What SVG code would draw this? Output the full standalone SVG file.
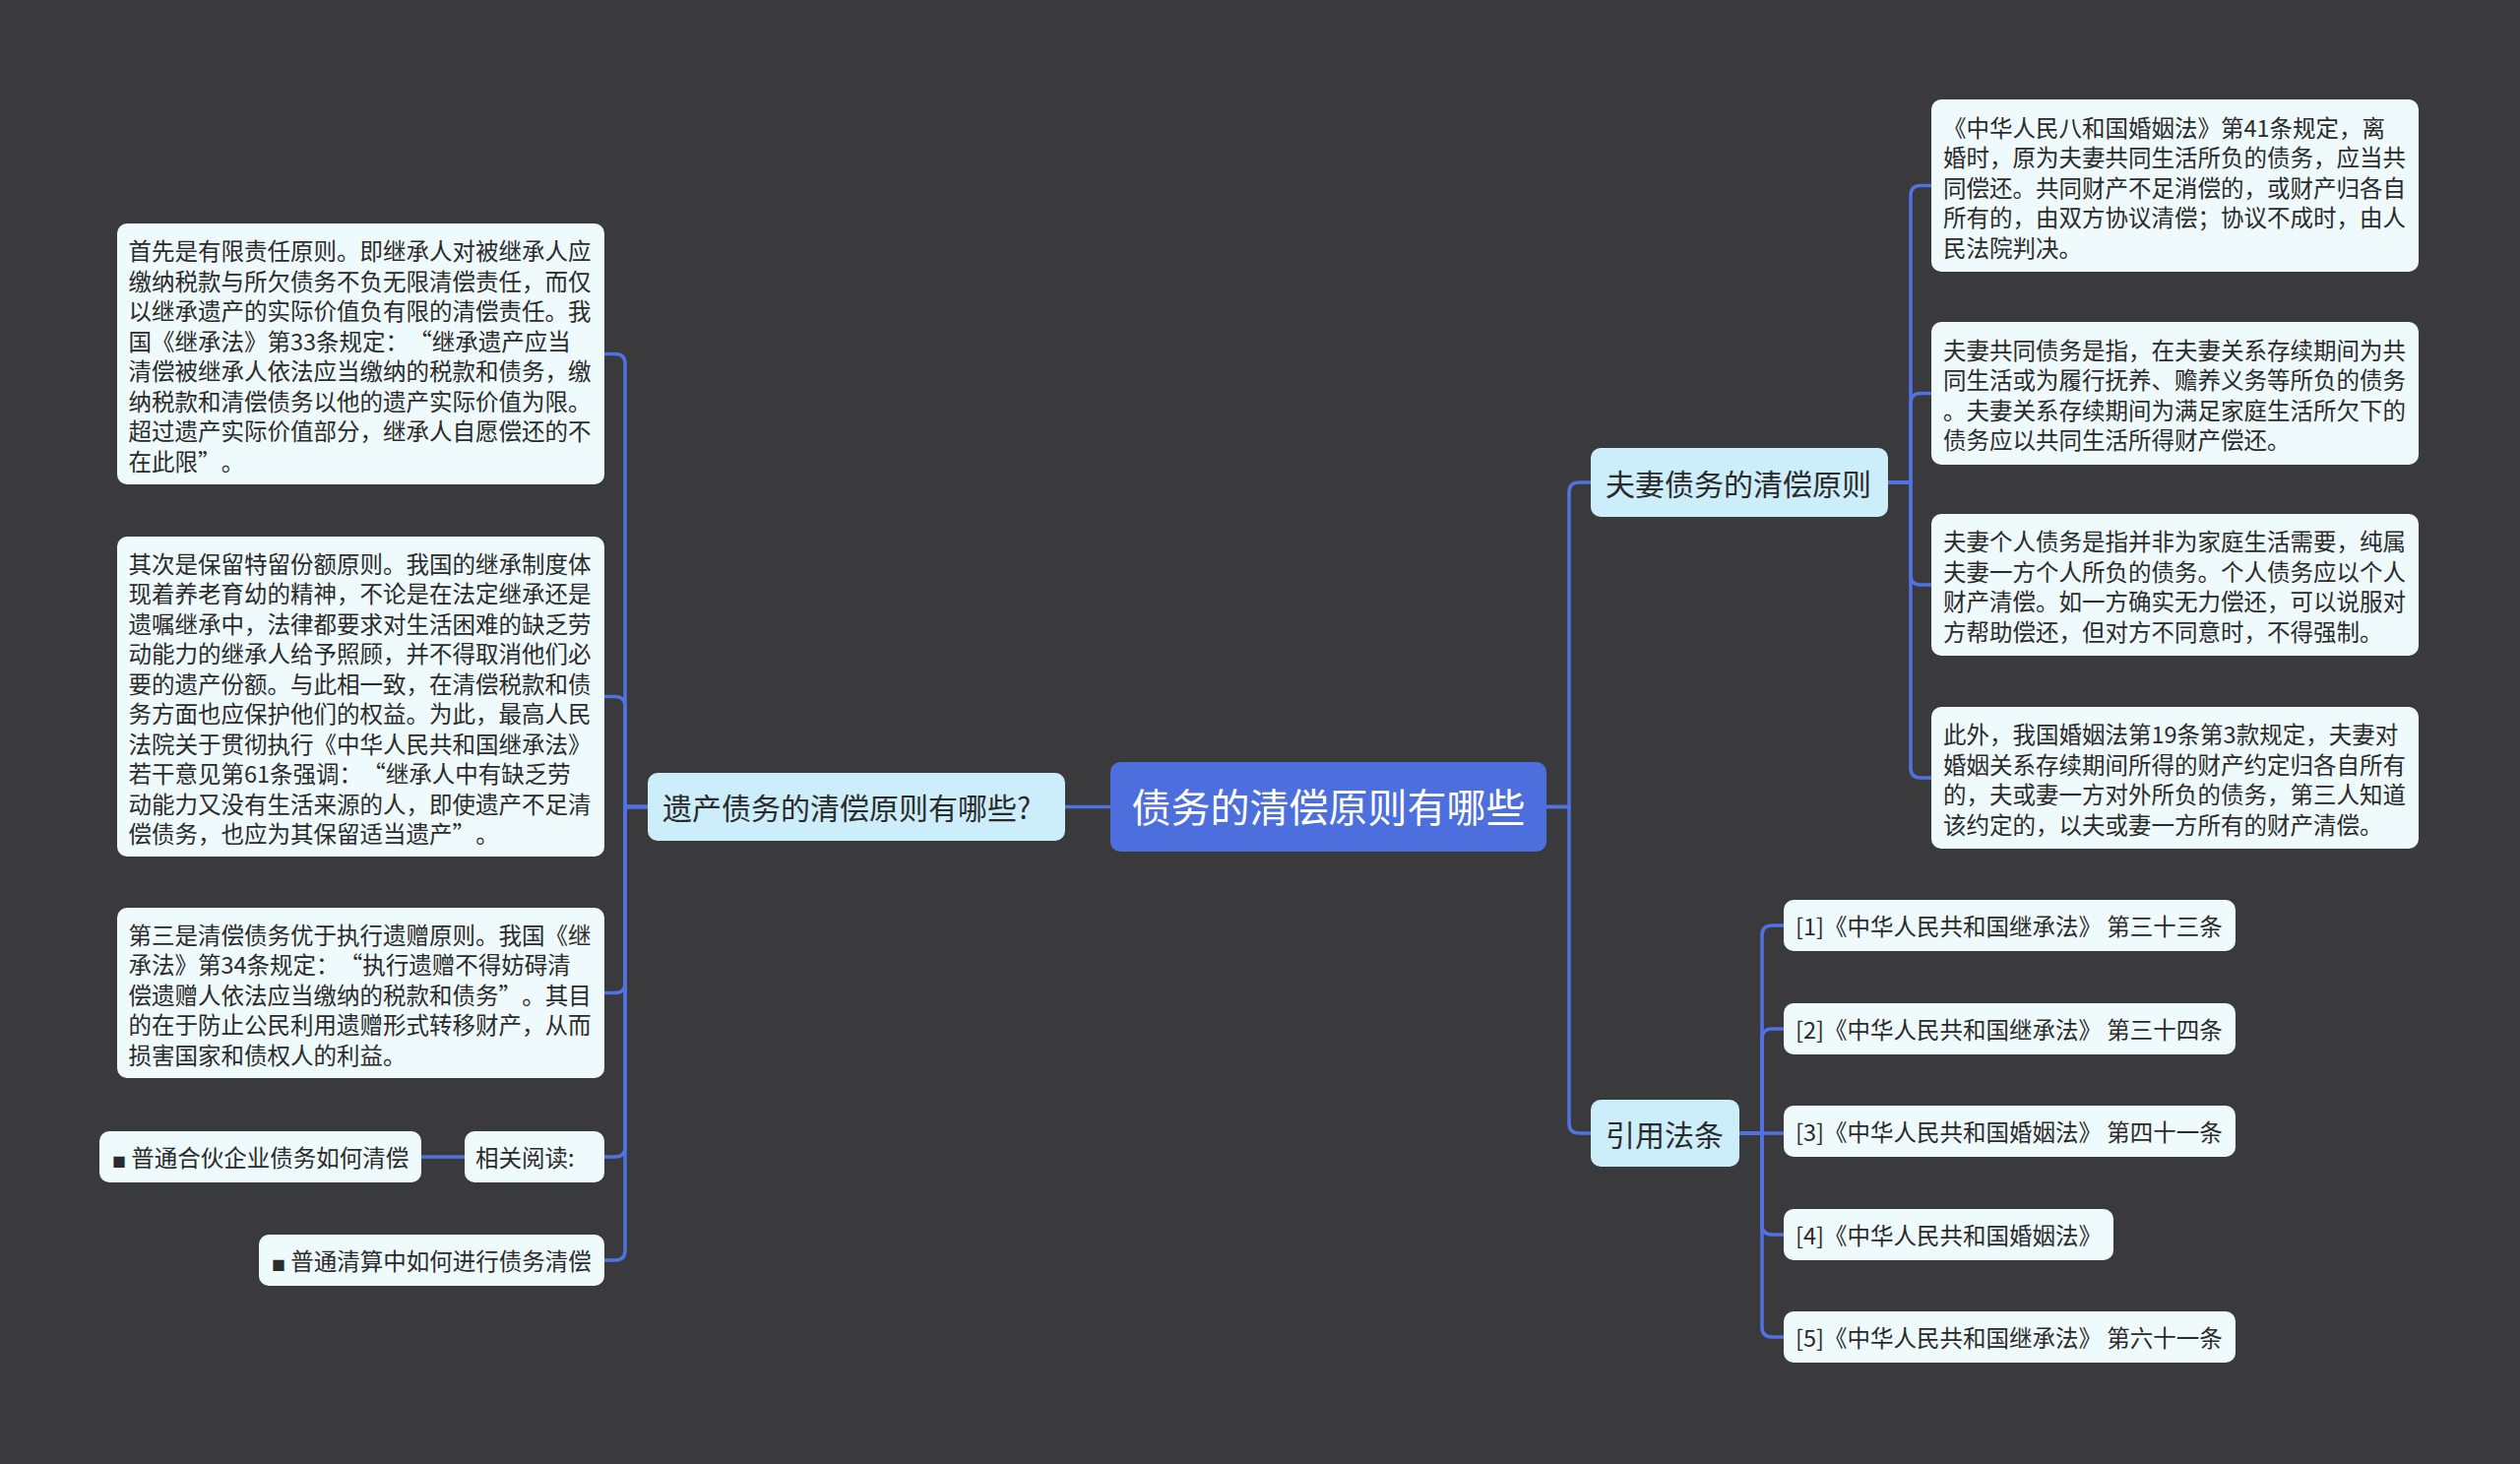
<svg xmlns="http://www.w3.org/2000/svg" width="2560" height="1487" viewBox="0 0 2560 1487">
<style>
  .bg{fill:#3A393B}
  .leaf{fill:#EFFAFC}
  .main{fill:#CCEEFB}
  .root{fill:#4D6FDD}
  .t{font-family:"Noto Sans CJK SC","Noto Sans",sans-serif;font-size:23.5px;fill:#2B2B2B}
  .tm{font-family:"Noto Sans CJK SC","Noto Sans",sans-serif;font-size:30px;fill:#2B2B2B}
  .tr{font-family:"Noto Sans CJK SC","Noto Sans",sans-serif;font-size:40px;fill:#FFFFFF}
  .bul{font-size:14px}
  .c{fill:none;stroke:#5271E2;stroke-width:3.5;stroke-linecap:round;stroke-linejoin:round}
</style>
<rect class="bg" x="0" y="0" width="2560" height="1487"/>

<g id="connectors">
  <path class="c" d="M1128 819.5 H1082"/>
  <path class="c" d="M1571 819.5 H1594 V500 Q1594 490 1604 490 H1616"/>
  <path class="c" d="M1571 819.5 H1594 V1141 Q1594 1151 1604 1151 H1616"/>
  <path class="c" d="M658 819.5 H635 V369.5 Q635 359.5 625 359.5 H614"/>
  <path class="c" d="M658 819.5 H635 V717.5 Q635 707.5 625 707.5 H614"/>
  <path class="c" d="M658 819.5 H635 V998.5 Q635 1008.5 625 1008.5 H614"/>
  <path class="c" d="M658 819.5 H635 V1165 Q635 1175 625 1175 H614"/>
  <path class="c" d="M658 819.5 H635 V1270 Q635 1280 625 1280 H614"/>
  <path class="c" d="M472 1175 H428"/>
  <path class="c" d="M1918 490 H1941 V198.5 Q1941 188.5 1951 188.5 H1962"/>
  <path class="c" d="M1918 490 H1941 V409.5 Q1941 399.5 1951 399.5 H1962"/>
  <path class="c" d="M1918 490 H1941 V584 Q1941 594 1951 594 H1962"/>
  <path class="c" d="M1918 490 H1941 V780 Q1941 790 1951 790 H1962"/>
  <path class="c" d="M1767 1151 H1790 V950 Q1790 940 1800 940 H1812"/>
  <path class="c" d="M1767 1151 H1790 V1055 Q1790 1045 1800 1045 H1812"/>
  <path class="c" d="M1767 1151 H1812"/>
  <path class="c" d="M1767 1151 H1790 V1244 Q1790 1254 1800 1254 H1812"/>
  <path class="c" d="M1767 1151 H1790 V1348 Q1790 1358 1800 1358 H1812"/>
</g>

<g id="root">
  <rect class="root" x="1128" y="774" width="443" height="91" rx="10"/>
  <text class="tr" x="1349.5" y="835" text-anchor="middle">债务的清偿原则有哪些</text>
</g>

<g id="left-main">
  <rect class="main" x="658" y="785" width="424" height="69" rx="10"/>
  <text class="tm" x="673" y="832">遗产债务的清偿原则有哪些?</text>
</g>

<g id="couple-main">
  <rect class="main" x="1616" y="455" width="302" height="70" rx="10"/>
  <text class="tm" x="1631" y="502.5">夫妻债务的清偿原则</text>
</g>

<g id="cite-main">
  <rect class="main" x="1616" y="1117" width="151" height="68" rx="10"/>
  <text class="tm" x="1631" y="1163.5">引用法条</text>
</g>

<g id="left-1">
  <rect class="leaf" x="119" y="227" width="495" height="265" rx="10"/>
  <text class="t" y="264">
    <tspan x="130.5">首先是有限责任原则。即继承人对被继承人应</tspan>
    <tspan x="130.5" dy="30.5">缴纳税款与所欠债务不负无限清偿责任，而仅</tspan>
    <tspan x="130.5" dy="30.5">以继承遗产的实际价值负有限的清偿责任。我</tspan>
    <tspan x="130.5" dy="30.5">国《继承法》第33条规定：<tspan dx="12">“</tspan>继承遗产应当</tspan>
    <tspan x="130.5" dy="30.5">清偿被继承人依法应当缴纳的税款和债务，缴</tspan>
    <tspan x="130.5" dy="30.5">纳税款和清偿债务以他的遗产实际价值为限。</tspan>
    <tspan x="130.5" dy="30.5">超过遗产实际价值部分，继承人自愿偿还的不</tspan>
    <tspan x="130.5" dy="30.5">在此限”<tspan dx="12">。</tspan></tspan>
  </text>
</g>

<g id="left-2">
  <rect class="leaf" x="119" y="545" width="495" height="325" rx="10"/>
  <text class="t" y="581.5">
    <tspan x="130.5">其次是保留特留份额原则。我国的继承制度体</tspan>
    <tspan x="130.5" dy="30.5">现着养老育幼的精神，不论是在法定继承还是</tspan>
    <tspan x="130.5" dy="30.5">遗嘱继承中，法律都要求对生活困难的缺乏劳</tspan>
    <tspan x="130.5" dy="30.5">动能力的继承人给予照顾，并不得取消他们必</tspan>
    <tspan x="130.5" dy="30.5">要的遗产份额。与此相一致，在清偿税款和债</tspan>
    <tspan x="130.5" dy="30.5">务方面也应保护他们的权益。为此，最高人民</tspan>
    <tspan x="130.5" dy="30.5">法院关于贯彻执行《中华人民共和国继承法》</tspan>
    <tspan x="130.5" dy="30.5">若干意见第61条强调：<tspan dx="12">“</tspan>继承人中有缺乏劳</tspan>
    <tspan x="130.5" dy="30.5">动能力又没有生活来源的人，即使遗产不足清</tspan>
    <tspan x="130.5" dy="30.5">偿债务，也应为其保留适当遗产”<tspan dx="12">。</tspan></tspan>
  </text>
</g>

<g id="left-3">
  <rect class="leaf" x="119" y="922" width="495" height="173" rx="10"/>
  <text class="t" y="958.5">
    <tspan x="130.5">第三是清偿债务优于执行遗赠原则。我国《继</tspan>
    <tspan x="130.5" dy="30.5">承法》第34条规定：<tspan dx="12">“</tspan>执行遗赠不得妨碍清</tspan>
    <tspan x="130.5" dy="30.5">偿遗赠人依法应当缴纳的税款和债务”<tspan dx="12">。</tspan>其目</tspan>
    <tspan x="130.5" dy="30.5">的在于防止公民利用遗赠形式转移财产，从而</tspan>
    <tspan x="130.5" dy="30.5">损害国家和债权人的利益。</tspan>
  </text>
</g>

<g id="related">
  <rect class="leaf" x="472" y="1149" width="142" height="52" rx="10"/>
  <text class="t" x="483" y="1185">相关阅读:</text>
</g>

<g id="related-1">
  <rect class="leaf" x="101" y="1149" width="327" height="52" rx="10"/>
  <text class="t" x="114" y="1185"><tspan class="bul">■</tspan> 普通合伙企业债务如何清偿</text>
</g>

<g id="related-2">
  <rect class="leaf" x="263" y="1254" width="351" height="52" rx="10"/>
  <text class="t" x="276" y="1290"><tspan class="bul">■</tspan> 普通清算中如何进行债务清偿</text>
</g>

<g id="right-1">
  <rect class="leaf" x="1962" y="101" width="495" height="175" rx="10"/>
  <text class="t" y="138.5">
    <tspan x="1974">《中华人民八和国婚姻法》第41条规定，离</tspan>
    <tspan x="1974" dy="30.5">婚时，原为夫妻共同生活所负的债务，应当共</tspan>
    <tspan x="1974" dy="30.5">同偿还。共同财产不足消偿的，或财产归各自</tspan>
    <tspan x="1974" dy="30.5">所有的，由双方协议清偿；协议不成时，由人</tspan>
    <tspan x="1974" dy="30.5">民法院判决。</tspan>
  </text>
</g>

<g id="right-2">
  <rect class="leaf" x="1962" y="327" width="495" height="145" rx="10"/>
  <text class="t" y="364.8">
    <tspan x="1974">夫妻共同债务是指，在夫妻关系存续期间为共</tspan>
    <tspan x="1974" dy="30.5">同生活或为履行抚养、赡养义务等所负的债务</tspan>
    <tspan x="1974" dy="30.5">。夫妻关系存续期间为满足家庭生活所欠下的</tspan>
    <tspan x="1974" dy="30.5">债务应以共同生活所得财产偿还。</tspan>
  </text>
</g>

<g id="right-3">
  <rect class="leaf" x="1962" y="522" width="495" height="144" rx="10"/>
  <text class="t" y="559.3">
    <tspan x="1974">夫妻个人债务是指并非为家庭生活需要，纯属</tspan>
    <tspan x="1974" dy="30.5">夫妻一方个人所负的债务。个人债务应以个人</tspan>
    <tspan x="1974" dy="30.5">财产清偿。如一方确实无力偿还，可以说服对</tspan>
    <tspan x="1974" dy="30.5">方帮助偿还，但对方不同意时，不得强制。</tspan>
  </text>
</g>

<g id="right-4">
  <rect class="leaf" x="1962" y="718" width="495" height="144" rx="10"/>
  <text class="t" y="755.3">
    <tspan x="1974">此外，我国婚姻法第19条第3款规定，夫妻对</tspan>
    <tspan x="1974" dy="30.5">婚姻关系存续期间所得的财产约定归各自所有</tspan>
    <tspan x="1974" dy="30.5">的，夫或妻一方对外所负的债务，第三人知道</tspan>
    <tspan x="1974" dy="30.5">该约定的，以夫或妻一方所有的财产清偿。</tspan>
  </text>
</g>

<g id="ref-1">
  <rect class="leaf" x="1812" y="914" width="459" height="52" rx="10"/>
  <text class="t" x="1824" y="950">[1]《中华人民共和国继承法》 第三十三条</text>
</g>
<g id="ref-2">
  <rect class="leaf" x="1812" y="1019" width="459" height="52" rx="10"/>
  <text class="t" x="1824" y="1055">[2]《中华人民共和国继承法》 第三十四条</text>
</g>
<g id="ref-3">
  <rect class="leaf" x="1812" y="1123" width="459" height="52" rx="10"/>
  <text class="t" x="1824" y="1159">[3]《中华人民共和国婚姻法》 第四十一条</text>
</g>
<g id="ref-4">
  <rect class="leaf" x="1812" y="1228" width="335" height="52" rx="10"/>
  <text class="t" x="1824" y="1264">[4]《中华人民共和国婚姻法》</text>
</g>
<g id="ref-5">
  <rect class="leaf" x="1812" y="1332" width="459" height="52" rx="10"/>
  <text class="t" x="1824" y="1368">[5]《中华人民共和国继承法》 第六十一条</text>
</g>
</svg>
